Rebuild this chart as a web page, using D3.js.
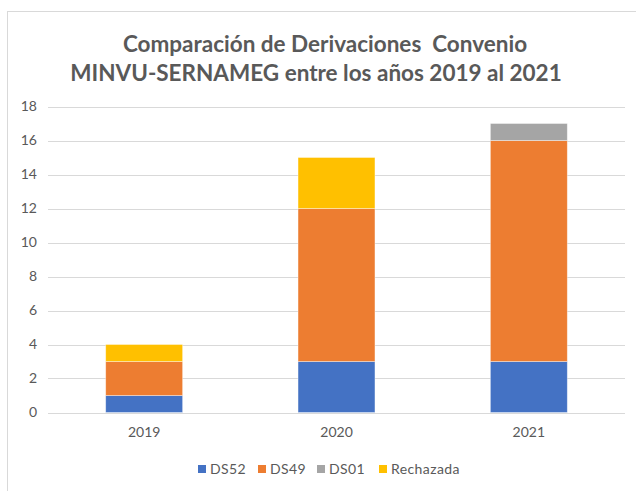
<!DOCTYPE html>
<html><head><meta charset="utf-8">
<script src="https://cdn.jsdelivr.net/npm/d3@7"></script>
<style>body{margin:0;background:#fff}svg{display:block}</style>
</head><body>
<script>
const categories = ["2019", "2020", "2021"];
const seriesNames = ["DS52", "DS49", "DS01", "Rechazada"];
const DS52 = [1, 3, 3];
const DS49 = [2, 9, 13];
const DS01 = [0, 0, 1];
const Rechazada = [1, 3, 0];
const yTicks = [0, 2, 4, 6, 8, 10, 12, 14, 16, 18];
const colors = ["#4472C4", "#ED7D31", "#A5A5A5", "#FFC000"];

const W = 636, H = 491;
const svg = d3.select("body").append("svg").attr("width", W).attr("height", H);
const font = "Lato, 'Open Sans', sans-serif";
const textColor = "#595959";

// chart border (top & left visible)
svg.append("line").attr("x1", 7).attr("x2", W).attr("y1", 11.5).attr("y2", 11.5).attr("stroke", "#d9d9d9");
svg.append("line").attr("x1", 7.5).attr("x2", 7.5).attr("y1", 11).attr("y2", H).attr("stroke", "#d9d9d9");

// title
const title = svg.append("text").attr("text-anchor", "middle").attr("fill", textColor)
  .style("font-family", font).style("font-weight", "bold").style("font-size", "22.5px")
  .style("white-space", "pre").attr("xml:space", "preserve");
title.append("tspan").attr("x", 325).attr("y", 52).text("Comparación de Derivaciones  Convenio");
title.append("tspan").attr("x", 316).attr("y", 81).text("MINVU-SERNAMEG entre los años 2019 al 2021");

const x = d3.scaleBand().domain(categories).range([48, 625]).paddingInner(0.6).paddingOuter(0.3);
const y = d3.scaleLinear().domain([0, 18]).range([412.5, 106.5]);

// gridlines
svg.append("g").selectAll("line").data(yTicks).join("line")
  .attr("x1", 48).attr("x2", 625).attr("y1", d => Math.round(y(d)) + 0.5).attr("y2", d => Math.round(y(d)) + 0.5)
  .attr("stroke", "#d9d9d9").attr("stroke-width", 1);

// y axis labels
const yAxis = svg.append("g").attr("transform", "translate(48,0)")
  .call(d3.axisLeft(y).tickValues(yTicks).tickSize(0).tickPadding(11));
yAxis.select(".domain").remove();
yAxis.selectAll("text").attr("fill", textColor).style("font-family", font).style("font-size", "14px");

// x axis labels
const xAxis = svg.append("g").attr("transform", "translate(0,413)")
  .call(d3.axisBottom(x).tickSize(0).tickPadding(14));
xAxis.select(".domain").remove();
xAxis.selectAll("text").attr("fill", textColor).style("font-family", font).style("font-size", "14px");

// stacked data
const table = categories.map((c, i) => ({cat: c, DS52: DS52[i], DS49: DS49[i], DS01: DS01[i], Rechazada: Rechazada[i]}));
const stack = d3.stack().keys(seriesNames)(table);

svg.append("g").selectAll("g").data(stack).join("g")
  .attr("fill", (d, i) => colors[i])
  .selectAll("rect").data(d => d.filter(v => v[1] > v[0])).join("rect")
  .attr("x", d => x(d.data.cat))
  .attr("width", x.bandwidth())
  .attr("y", d => y(d[1]))
  .attr("height", d => y(d[0]) - y(d[1]))
  .attr("stroke", "#ffffff").attr("stroke-opacity", 0.5).attr("stroke-width", 0.75);

// legend
const legendX = [198, 258, 317, 379];
const lg = svg.append("g").selectAll("g").data(seriesNames).join("g")
  .attr("transform", (d, i) => `translate(${legendX[i]},465)`);
lg.append("rect").attr("width", 8).attr("height", 8).attr("fill", (d, i) => colors[i]);
lg.append("text").attr("x", 12).attr("y", 9).attr("fill", textColor)
  .style("font-family", font).style("font-size", "14px").style("letter-spacing", "0.4px").text(d => d);
</script>
</body></html>
